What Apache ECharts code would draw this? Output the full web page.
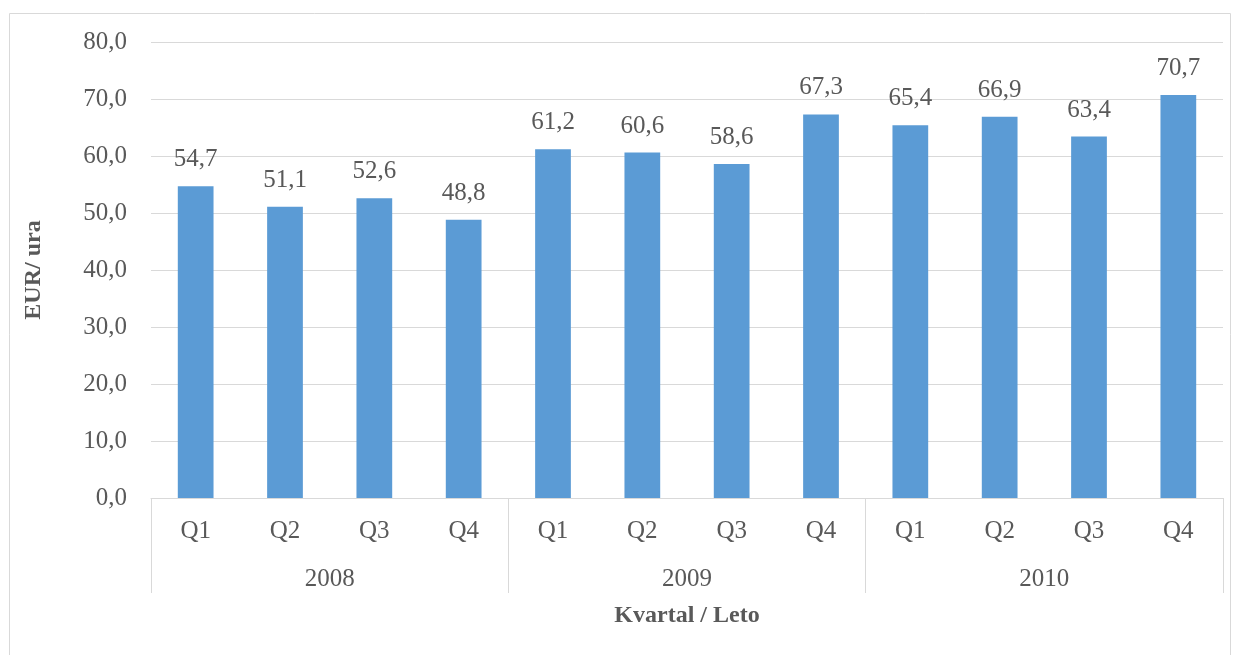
<!DOCTYPE html>
<html><head><meta charset="utf-8">
<script src="https://cdn.jsdelivr.net/npm/echarts@6/dist/echarts.min.js"></script>
<style>html,body{margin:0;padding:0;background:#fff}#c{width:1240px;height:655px}</style>
</head><body><div id="c"></div>
<script>
const quarters = ['Q1','Q2','Q3','Q4','Q1','Q2','Q3','Q4','Q1','Q2','Q3','Q4'];
const years = ['2008','2009','2010'];
const values = [54.7,51.1,52.6,48.8,61.2,60.6,58.6,67.3,65.4,66.9,63.4,70.7];
const yTicks = [0,10,20,30,40,50,60,70,80];
const fmt = v => v.toFixed(1).replace('.', ',');
const FONT = '"Liberation Serif", "Times New Roman", serif';
const chart = echarts.init(document.getElementById('c'));
chart.setOption({
  animation:false,
  graphic:[{type:'rect',shape:{x:9.5,y:13.5,width:1221,height:660},style:{fill:'none',stroke:'#d9d9d9',lineWidth:1},silent:true}],
  grid:{left:151,right:17,top:42,bottom:157,containLabel:false},
  xAxis:[{
    type:'category',data:quarters,position:'bottom',
    axisLine:{show:true,lineStyle:{color:'#d9d9d9',width:1}},
    axisTick:{show:false},
    axisLabel:{color:'#595959',fontFamily:FONT,fontSize:25,margin:21,interval:0},
    name:'Kvartal / Leto',nameLocation:'middle',nameGap:106,
    nameTextStyle:{color:'#595959',fontFamily:FONT,fontSize:24,fontWeight:'bold'}
  },{
    type:'category',data:years,position:'bottom',gridIndex:0,
    axisLine:{show:false},
    axisTick:{show:true,length:95,interval:0,lineStyle:{color:'#d9d9d9',width:1}},
    axisLabel:{color:'#595959',fontFamily:FONT,fontSize:25,margin:69,interval:0},
    splitLine:{show:false}
  }],
  yAxis:{
    type:'value',min:yTicks[0],max:yTicks[yTicks.length-1],interval:10,
    axisLine:{show:false},axisTick:{show:false},
    axisLabel:{color:'#595959',fontFamily:FONT,fontSize:25,margin:24,formatter:fmt},
    splitLine:{lineStyle:{color:'#d9d9d9',width:1}},
    name:'EUR/ ura',nameLocation:'middle',nameGap:105,
    nameTextStyle:{color:'#595959',fontFamily:FONT,fontSize:24,fontWeight:'bold'}
  },
  series:[{
    type:'bar',data:values,xAxisIndex:0,barWidth:'40%',
    itemStyle:{color:'#5b9bd5'},
    label:{show:true,position:'top',distance:14,color:'#595959',fontFamily:FONT,fontSize:25,formatter:p=>fmt(p.value)}
  }]
});
</script></body></html>
